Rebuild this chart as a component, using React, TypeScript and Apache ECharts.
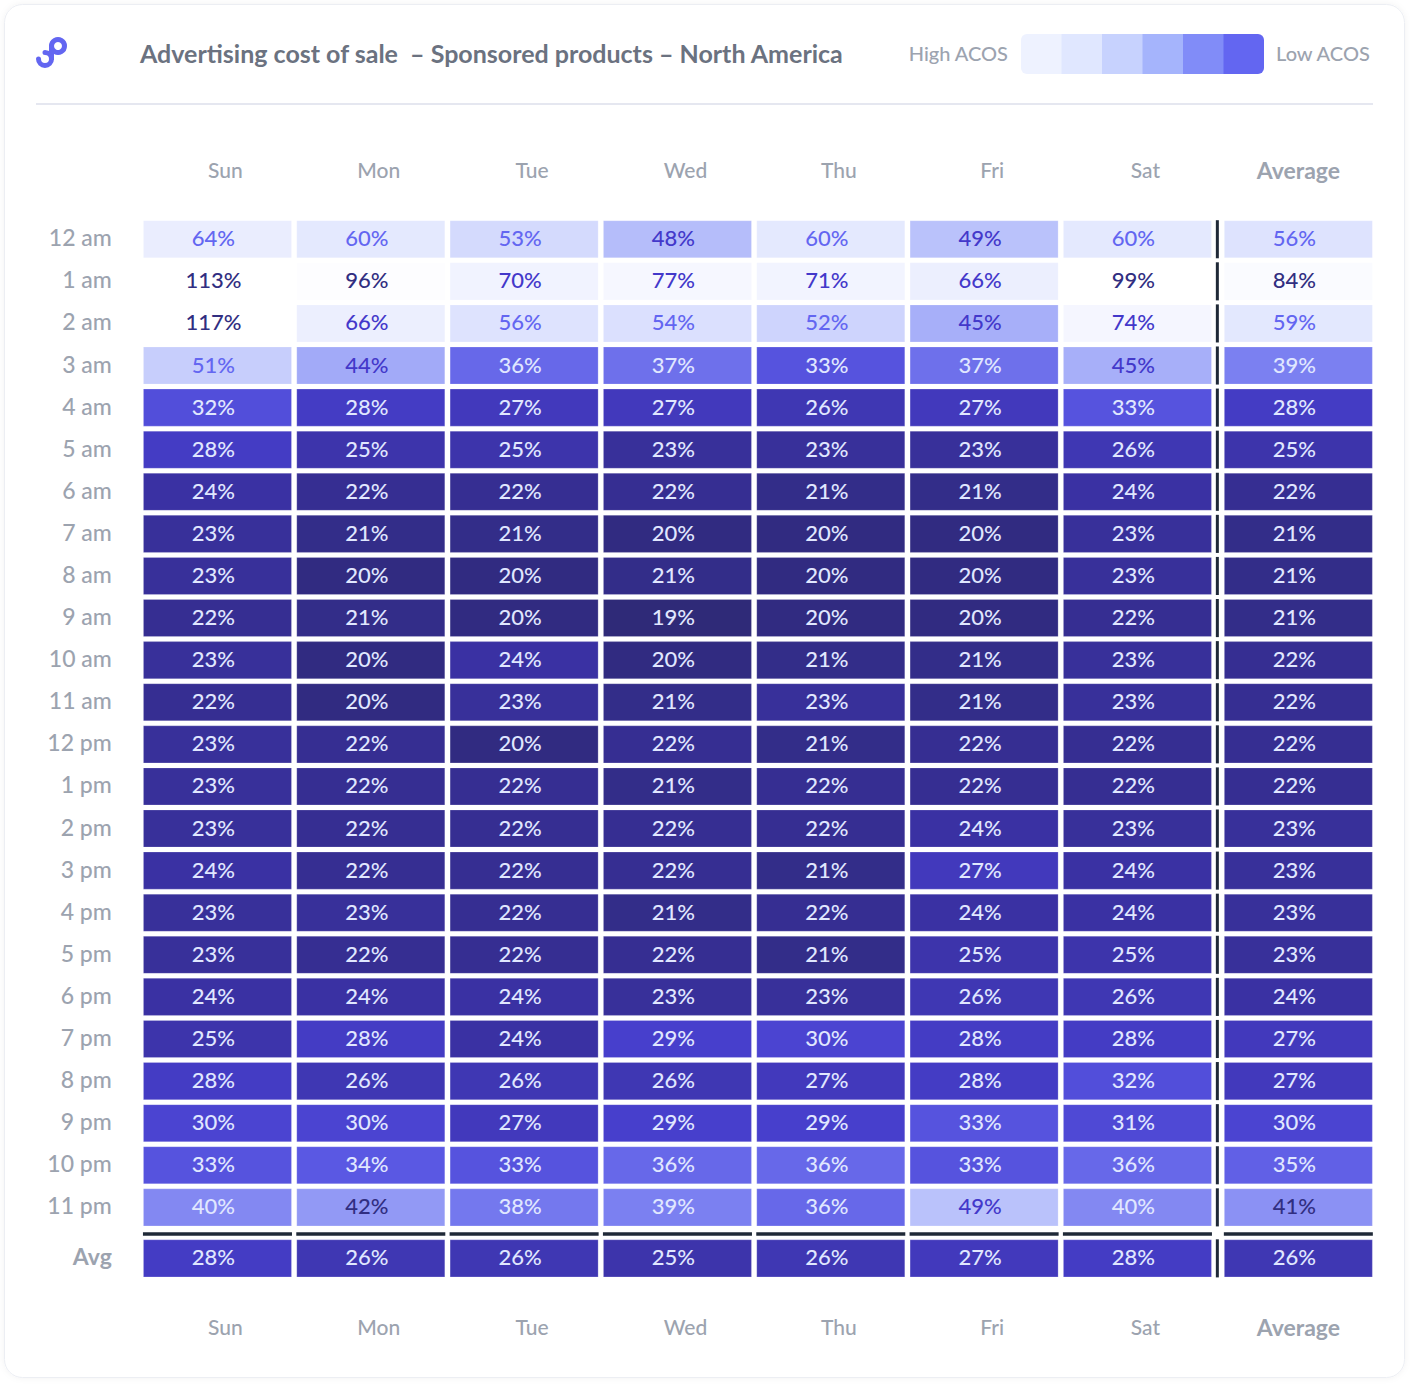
import React, { useEffect, useRef } from "react";
import * as echarts from "echarts";

const days = ["Sun", "Mon", "Tue", "Wed", "Thu", "Fri", "Sat"];
const hours = [
  "12 am", "1 am", "2 am", "3 am", "4 am", "5 am", "6 am", "7 am", "8 am", "9 am", "10 am", "11 am",
  "12 pm", "1 pm", "2 pm", "3 pm", "4 pm", "5 pm", "6 pm", "7 pm", "8 pm", "9 pm", "10 pm", "11 pm",
];
const sun = [64, 113, 117, 51, 32, 28, 24, 23, 23, 22, 23, 22, 23, 23, 23, 24, 23, 23, 24, 25, 28, 30, 33, 40];
const mon = [60, 96, 66, 44, 28, 25, 22, 21, 20, 21, 20, 20, 22, 22, 22, 22, 23, 22, 24, 28, 26, 30, 34, 42];
const tue = [53, 70, 56, 36, 27, 25, 22, 21, 20, 20, 24, 23, 20, 22, 22, 22, 22, 22, 24, 24, 26, 27, 33, 38];
const wed = [48, 77, 54, 37, 27, 23, 22, 20, 21, 19, 20, 21, 22, 21, 22, 22, 21, 22, 23, 29, 26, 29, 36, 39];
const thu = [60, 71, 52, 33, 26, 23, 21, 20, 20, 20, 21, 23, 21, 22, 22, 21, 22, 21, 23, 30, 27, 29, 36, 36];
const fri = [49, 66, 45, 37, 27, 23, 21, 20, 20, 20, 21, 21, 22, 22, 24, 27, 24, 25, 26, 28, 28, 33, 33, 49];
const sat = [60, 99, 74, 45, 33, 26, 24, 23, 23, 22, 23, 23, 22, 22, 23, 24, 24, 25, 26, 28, 32, 31, 36, 40];
const hourAvg = [56, 84, 59, 39, 28, 25, 22, 21, 21, 21, 22, 22, 22, 22, 23, 23, 23, 23, 24, 27, 27, 30, 35, 41];
const dayAvg = [28, 26, 26, 25, 26, 27, 28];
const overallAvg = 26;
const avgColLabel = "Average";
const avgRowLabel = "Avg";

const titleText = "Advertising cost of sale  \u2013 Sponsored products \u2013 North America";
const legendLow = "High ACOS";
const legendHigh = "Low ACOS";
const legendColors = ["#eef2ff", "#e0e7ff", "#c7d2fe", "#a5b4fc", "#818cf8", "#6366f1"];

// colour ramp from 19% (dark) to 99% (white), even stops every 5 points
const rampColors = [
  "#2f2a78", "#3a31a3", "#473fcc", "#5a58e3", "#7b80f1", "#a2aaf8", "#bac2fb", "#dbe0fe",
  "#e3e8fe", "#eaedfe", "#f0f2ff", "#f5f6ff", "#f7f8ff", "#fafbff", "#fbfbff", "#fcfcff", "#ffffff",
];

const FONT = "Lato, 'Open Sans', sans-serif";
const GRAY = "#9ca3af";

function textColor(v: number) {
  if (v >= 80) return "#312e81";
  if (v >= 65) return "#4338ca";
  if (v >= 50) return "#6366f1";
  if (v >= 43) return "#4338ca";
  if (v >= 41) return "#312e81";
  return "#e0e7ff";
}

const GAP_X = 4.3;
const GAP_Y = 4;

function makeRender(leftBar: boolean, topBar: boolean) {
  return (params: any, api: any) => {
    const xi = api.value(0);
    const yi = api.value(1);
    const v = api.value(2);
    const c = api.coord([xi, yi]);
    const s = api.size([1, 1]);
    const w = s[0] - GAP_X;
    const h = s[1] - GAP_Y;
    const x0 = c[0] - w / 2;
    const y0 = c[1] - h / 2;
    const children: any[] = [
      {
        type: "rect",
        shape: { x: x0 + 0.5, y: y0 + 0.5, width: w - 1, height: h - 1 },
        style: { fill: api.visual("color"), stroke: "rgba(255,255,255,0.2)", lineWidth: 1 },
      },
      {
        type: "text",
        style: {
          text: v + "%",
          x: c[0] - 4,
          y: c[1] - 1.5,
          fill: textColor(v),
          font: `500 22px ${FONT}`,
          align: "center",
          verticalAlign: "middle",
          textAlign: "center",
          textVerticalAlign: "middle",
        },
      },
    ];
    if (leftBar) {
      children.push({ type: "rect", shape: { x: x0 - 8, y: y0, width: 3, height: h }, style: { fill: "#1f2937" } });
    }
    if (topBar) {
      children.push({ type: "rect", shape: { x: x0, y: y0 - 7, width: w, height: 3.5 }, style: { fill: "#1f2937" } });
    }
    return { type: "group", children };
  };
}

const dayCols = [sun, mon, tue, wed, thu, fri, sat];

export default function App() {
  const ref = useRef<HTMLDivElement>(null);
  useEffect(() => {
    if (!ref.current) return;
    const chart = echarts.init(ref.current, null, { renderer: "svg" });

    const mainData: any[] = [];
    dayCols.forEach((col, d) => col.forEach((v, h) => mainData.push([d, h, v])));
    const avgColData = hourAvg.map((v, h) => [0, h, v]);
    const avgRowData = dayAvg.map((v, d) => [d, 0, v]);
    const cornerData = [[0, 0, overallAvg]];

    const L = 140.8;
    const W = 1073.3;
    const L2 = 1221.7;
    const W2 = 153.3;
    const T = 218.2;
    const H = 1010.2;
    const T2 = 1237.3;
    const H2 = 42.1;

    const dayLabel = (pos: "top" | "bottom") => ({
      position: pos,
      axisLine: { show: false },
      axisTick: { show: false },
      splitLine: { show: false },
      axisLabel: {
        margin: pos === "top" ? 38 : 37,
        formatter: (v: string) => `{d|${v}}`,
        rich: { d: { color: GRAY, fontSize: 21, fontFamily: FONT, fontWeight: 500, padding: [0, 0, 0, 16] } },
      },
    });
    const avgLabel = (pos: "top" | "bottom") => ({
      position: pos,
      axisLine: { show: false },
      axisTick: { show: false },
      splitLine: { show: false },
      axisLabel: { margin: pos === "top" ? 37 : 36, color: GRAY, fontSize: 23, fontFamily: FONT, fontWeight: "bold" },
    });
    const rowLabel = (bold: boolean) => ({
      margin: 29,
      formatter: (v: string) => `{r|${v}}`,
      rich: {
        r: {
          color: GRAY,
          fontSize: bold ? 23 : 23,
          fontFamily: FONT,
          fontWeight: bold ? "bold" : 500,
          padding: [0, 0, 4, 0],
        },
      },
    });
    const rowAxisBase = {
      inverse: true,
      axisLine: { show: false },
      axisTick: { show: false },
      splitLine: { show: false },
    };

    const option: any = {
      animation: false,
      backgroundColor: "#ffffff",
      grid: [
        { left: L, top: T, width: W, height: H, outerBoundsMode: "none" },
        { left: L2, top: T, width: W2, height: H, outerBoundsMode: "none" },
        { left: L, top: T2, width: W, height: H2, outerBoundsMode: "none" },
        { left: L2, top: T2, width: W2, height: H2, outerBoundsMode: "none" },
      ],
      xAxis: [
        { type: "category", gridIndex: 0, data: days, ...dayLabel("top") },
        { type: "category", gridIndex: 1, data: [avgColLabel], ...avgLabel("top") },
        { type: "category", gridIndex: 2, data: days, ...dayLabel("bottom") },
        { type: "category", gridIndex: 3, data: [avgColLabel], ...avgLabel("bottom") },
      ],
      yAxis: [
        { type: "category", gridIndex: 0, data: hours, ...rowAxisBase, axisLabel: rowLabel(false) },
        { type: "category", gridIndex: 1, data: hours, inverse: true, show: false },
        { type: "category", gridIndex: 2, data: [avgRowLabel], ...rowAxisBase, axisLabel: rowLabel(true) },
        { type: "category", gridIndex: 3, data: [avgRowLabel], show: false },
      ],
      visualMap: {
        show: false,
        type: "continuous",
        min: 19,
        max: 99,
        dimension: 2,
        seriesIndex: [0, 1, 2, 3],
        inRange: { color: rampColors },
      },
      series: [
        { type: "custom", xAxisIndex: 0, yAxisIndex: 0, data: mainData, renderItem: makeRender(false, false) },
        { type: "custom", xAxisIndex: 1, yAxisIndex: 1, data: avgColData, renderItem: makeRender(true, false) },
        { type: "custom", xAxisIndex: 2, yAxisIndex: 2, data: avgRowData, renderItem: makeRender(false, true) },
        { type: "custom", xAxisIndex: 3, yAxisIndex: 3, data: cornerData, renderItem: makeRender(true, true) },
      ],
      graphic: [
        {
          type: "rect",
          z: -10,
          shape: { x: 4.5, y: 4.5, width: 1400, height: 1373, r: 18 },
          style: { fill: "#ffffff", stroke: "#eceef3", lineWidth: 1, shadowBlur: 6, shadowColor: "rgba(0,0,0,0.05)" },
        },
        // logo
        { type: "circle", shape: { cx: 58, cy: 46, r: 6.5 }, style: { fill: "none", stroke: "#6366f1", lineWidth: 5 } },
        {
          type: "arc",
          shape: { cx: 45, cy: 59, r: 6.5, startAngle: -Math.PI / 2, endAngle: Math.PI, clockwise: true },
          style: { fill: "none", stroke: "#6366f1", lineWidth: 5, lineCap: "round" },
        },
        { type: "line", shape: { x1: 51.5, y1: 45, x2: 51.5, y2: 60 }, style: { stroke: "#6366f1", lineWidth: 5 } },
        // title
        {
          type: "text",
          x: 140,
          y: 53,
          style: { text: titleText, fill: "#6b7280", font: `bold 25px ${FONT}`, textVerticalAlign: "middle", verticalAlign: "middle" },
        },
        // legend
        {
          type: "text",
          x: 1008,
          y: 53,
          style: { text: legendLow, fill: GRAY, font: `500 20px ${FONT}`, align: "right", textAlign: "right", verticalAlign: "middle", textVerticalAlign: "middle" },
        },
        ...legendColors.map((col, i) => ({
          type: "rect",
          shape: {
            x: 1021 + i * 40.5,
            y: 34,
            width: 40.5 + (i < legendColors.length - 1 ? 0.5 : 0),
            height: 40,
            r: i === 0 ? [6, 0, 0, 6] : i === legendColors.length - 1 ? [0, 6, 6, 0] : 0,
          },
          style: { fill: col },
        })),
        {
          type: "text",
          x: 1276,
          y: 53,
          style: { text: legendHigh, fill: GRAY, font: `500 20px ${FONT}`, verticalAlign: "middle", textVerticalAlign: "middle" },
        },
        // divider
        { type: "line", shape: { x1: 36, y1: 104, x2: 1373, y2: 104 }, style: { stroke: "#e5e7f0", lineWidth: 2 } },
      ],
    };
    chart.setOption(option);
    return () => chart.dispose();
  }, []);
  return <div ref={ref} style={{ position: "absolute", left: 0, top: 0, width: 1410, height: 1385 }} />;
}
